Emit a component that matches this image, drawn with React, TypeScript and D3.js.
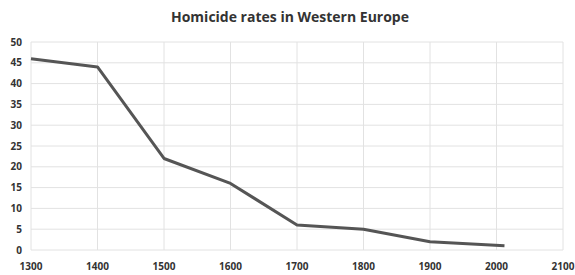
import React, { useEffect, useRef } from "react";
import * as d3 from "d3";

const years = [1300, 1400, 1500, 1600, 1700, 1800, 1900, 2012];
const rates = [46, 44, 22, 16, 6, 5, 2, 1];
const xTicks = [1300, 1400, 1500, 1600, 1700, 1800, 1900, 2000, 2100];
const yTicks = [0, 5, 10, 15, 20, 25, 30, 35, 40, 45, 50];
const title = "Homicide rates in Western Europe";

const App = () => {
  const svgRef = useRef<SVGSVGElement>(null);

  useEffect(() => {
    const width = 575;
    const height = 275;
    const margin = { top: 42, right: 12, bottom: 25, left: 31 };
    const font = "'Open Sans', 'Liberation Sans', sans-serif";

    const svg = d3.select(svgRef.current);
    svg.selectAll("*").remove();
    svg.attr("width", width).attr("height", height);

    svg.append("rect").attr("width", width).attr("height", height).attr("fill", "#fff");

    const x = d3.scaleLinear().domain([1300, 2100]).range([margin.left, width - margin.right]);
    const y = d3.scaleLinear().domain([0, 50]).range([height - margin.bottom, margin.top]);

    // grid
    svg.append("g")
      .selectAll("line.h")
      .data(yTicks)
      .enter()
      .append("line")
      .attr("x1", x(1300))
      .attr("x2", x(2100))
      .attr("y1", (d) => y(d))
      .attr("y2", (d) => y(d))
      .attr("stroke", "#e2e2e2")
      .attr("stroke-width", 1);

    svg.append("g")
      .selectAll("line.v")
      .data(xTicks)
      .enter()
      .append("line")
      .attr("x1", (d) => x(d))
      .attr("x2", (d) => x(d))
      .attr("y1", y(0))
      .attr("y2", y(50))
      .attr("stroke", "#e2e2e2")
      .attr("stroke-width", 1);

    // y labels
    svg.append("g")
      .selectAll("text")
      .data(yTicks)
      .enter()
      .append("text")
      .attr("x", 22)
      .attr("y", (d) => y(d) + 3.5)
      .attr("text-anchor", "end")
      .attr("font-family", font)
      .attr("font-weight", "bold")
      .attr("font-size", 10)
      .attr("fill", "#333")
      .text((d) => d);

    // x labels
    svg.append("g")
      .selectAll("text")
      .data(xTicks)
      .enter()
      .append("text")
      .attr("x", (d) => x(d))
      .attr("y", 270)
      .attr("text-anchor", "middle")
      .attr("font-family", font)
      .attr("font-weight", "bold")
      .attr("font-size", 10)
      .attr("fill", "#333")
      .text((d) => d);

    // title
    svg.append("text")
      .attr("x", 290)
      .attr("y", 22)
      .attr("text-anchor", "middle")
      .attr("font-family", font)
      .attr("font-weight", "bold")
      .attr("font-size", 14)
      .attr("fill", "#333")
      .text(title);

    // line
    const line = d3.line<number>()
      .x((d, i) => x(years[i]))
      .y((d) => y(d));

    svg.append("path")
      .datum(rates)
      .attr("d", line)
      .attr("fill", "none")
      .attr("stroke", "#555")
      .attr("stroke-width", 3)
      .attr("stroke-linejoin", "round");
  }, []);

  return <svg ref={svgRef} style={{ position: "absolute", left: 0, top: 0 }}></svg>;
};

export default App;
